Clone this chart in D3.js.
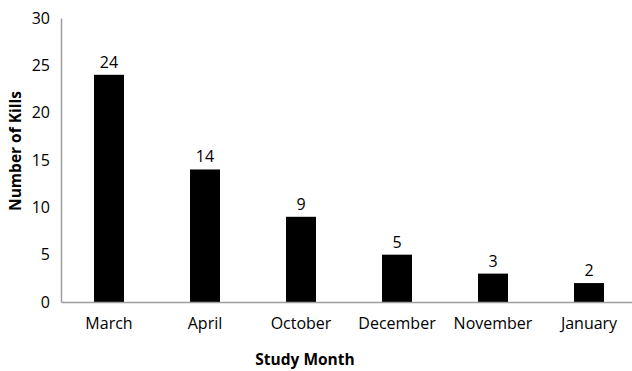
<!DOCTYPE html>
<html>
<head>
<meta charset="utf-8">
<script src="https://cdn.jsdelivr.net/npm/d3@7"></script>
<style>
  body { margin: 0; background: #fff; }
  svg text { font-family: "Open Sans", sans-serif; fill: #000; }
</style>
</head>
<body>
<svg id="chart" width="632" height="371"></svg>
<script>
var months = ['March', 'April', 'October', 'December', 'November', 'January'];
var kills = [24, 14, 9, 5, 3, 2];
var yTicks = [0, 5, 10, 15, 20, 25, 30];

var svg = d3.select('#chart');
var plotLeft = 61, plotRight = 637, plotTop = 18, plotBottom = 302;

var x = d3.scaleBand().domain(months).range([plotLeft, plotRight]).paddingInner(0.6875).paddingOuter(0.34375);
var y = d3.scaleLinear().domain([0, 30]).range([plotBottom, plotTop]);

// bars
svg.selectAll('rect.bar')
  .data(kills)
  .enter().append('rect')
  .attr('class', 'bar')
  .attr('x', function(d, i){ return x(months[i]); })
  .attr('y', function(d){ return y(d); })
  .attr('width', x.bandwidth())
  .attr('height', function(d){ return y(0) - y(d); })
  .attr('fill', '#000');

// value labels
svg.selectAll('text.val')
  .data(kills)
  .enter().append('text')
  .attr('class', 'val')
  .attr('x', function(d, i){ return x(months[i]) + x.bandwidth() / 2; })
  .attr('y', function(d){ return y(d) - 7; })
  .attr('text-anchor', 'middle')
  .style('font-size', '16px')
  .text(function(d){ return d; });

// y axis
var yAxis = svg.append('g')
  .attr('transform', 'translate(' + plotLeft + ',0)')
  .call(d3.axisLeft(y).tickValues(yTicks).tickSize(0).tickPadding(11));
yAxis.select('.domain').attr('stroke', '#9e9e9e').attr('stroke-width', 1.5);
yAxis.selectAll('text').style('font-size', '16px').style('font-family', '"Open Sans", sans-serif');

// x axis
var xAxis = svg.append('g')
  .attr('transform', 'translate(0,' + plotBottom + ')')
  .call(d3.axisBottom(x).tickSize(0).tickPadding(16));
xAxis.select('.domain').attr('stroke', '#9e9e9e').attr('stroke-width', 1.5);
xAxis.selectAll('text').style('font-size', '16px').style('font-family', '"Open Sans", sans-serif');

// titles
svg.append('text')
  .attr('transform', 'translate(21,151) rotate(-90)')
  .attr('text-anchor', 'middle')
  .style('font-size', '15.5px')
  .style('font-weight', 'bold')
  .text('Number of Kills');

svg.append('text')
  .attr('x', 305)
  .attr('y', 365)
  .attr('text-anchor', 'middle')
  .style('font-size', '15.5px')
  .style('font-weight', 'bold')
  .text('Study Month');
</script>
</body>
</html>
